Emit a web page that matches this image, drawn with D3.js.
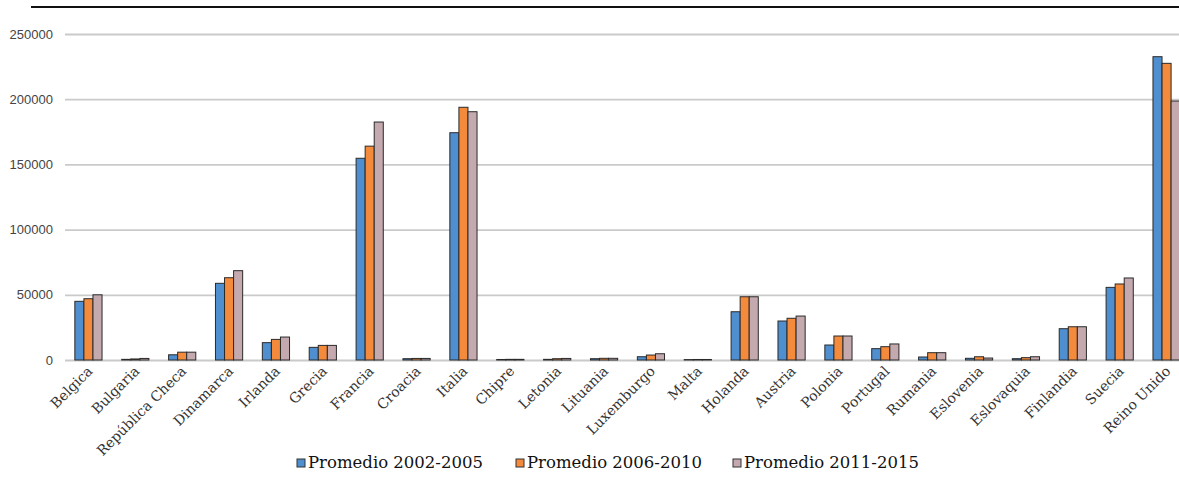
<!DOCTYPE html>
<html>
<head>
<meta charset="utf-8">
<script src="https://cdn.jsdelivr.net/npm/d3@7"></script>
<style>
  body { margin: 0; background: #fff; }
  svg { display: block; }
</style>
</head>
<body>
<svg width="1179" height="490"></svg>
<script>
const countries = ["Belgica", "Bulgaria", "República Checa", "Dinamarca", "Irlanda", "Grecia",
    "Francia", "Croacia", "Italia", "Chipre", "Letonia", "Lituania", "Luxemburgo", "Malta",
    "Holanda", "Austria", "Polonia", "Portugal", "Rumania", "Eslovenia", "Eslovaquia",
    "Finlandia", "Suecia", "Reino Unido"];

const series = ["Promedio 2002-2005", "Promedio 2006-2010", "Promedio 2011-2015"];

const p2002 = [45000, 500, 4000, 58800, 13300, 9700, 154700, 1000, 174300, 400, 500, 1000,
    2500, 300, 37000, 29900, 11500, 8700, 2300, 1300, 1000, 24000, 55700, 232600];
const p2006 = [47000, 800, 6000, 63100, 15800, 11200, 164000, 1200, 193800, 500, 1000, 1300,
    3800, 400, 48500, 32000, 18400, 10200, 5600, 2500, 1800, 25500, 58300, 227500];
const p2011 = [50000, 1200, 6000, 68500, 17600, 11200, 182500, 1200, 190400, 500, 1200, 1300,
    4800, 400, 48500, 33700, 18400, 12300, 5600, 1500, 2500, 25500, 62900, 198600];

const yTicks = [0, 50000, 100000, 150000, 200000, 250000];
const colors = ["#4f8fcf", "#f48a3c", "#c4aaaf"];

const values = [p2002, p2006, p2011];
const rows = countries.map((c, i) => ({
    country: c,
    vals: series.map((s, k) => ({ key: s, value: values[k][i] }))
}));

const svg = d3.select("svg");

const x = d3.scaleBand()
    .domain(countries)
    .range([65, 1190])
    .paddingInner(0.42)
    .paddingOuter(0.21);

const xs = d3.scaleBand()
    .domain(series)
    .range([0, x.bandwidth()]);

const y = d3.scaleLinear()
    .domain([0, 250000])
    .range([360, 34]);

// linea negra de arriba
svg.append("line")
    .attr("x1", 31).attr("x2", 1179)
    .attr("y1", 7).attr("y2", 7)
    .attr("stroke", "#111")
    .attr("stroke-width", 2);

// rejilla y eje y
const yAxis = svg.append("g")
    .attr("transform", "translate(65,0)")
    .call(d3.axisLeft(y).tickValues(yTicks).tickSize(-1114).tickPadding(12).tickFormat(d3.format("d")));
yAxis.select(".domain").remove();
yAxis.selectAll(".tick line")
    .attr("stroke", "#cacaca")
    .attr("stroke-width", 1.8);
yAxis.selectAll(".tick text")
    .attr("font-family", "Liberation Sans, Arial, sans-serif")
    .attr("font-size", 13)
    .attr("fill", "#444");

// barras
const group = svg.append("g")
    .selectAll("g")
    .data(rows)
    .enter()
    .append("g")
    .attr("transform", (d) => "translate(" + x(d.country) + ",0)");

group.selectAll("rect")
    .data((d) => d.vals)
    .enter()
    .append("rect")
    .attr("x", (d) => xs(d.key))
    .attr("y", (d) => y(d.value))
    .attr("width", xs.bandwidth())
    .attr("height", (d) => y(0) - y(d.value))
    .attr("fill", (d, i) => colors[i])
    .attr("stroke", "#2a2a2a")
    .attr("stroke-width", 1);

// etiquetas x
svg.append("g")
    .selectAll("text")
    .data(countries)
    .enter()
    .append("text")
    .text((d) => d)
    .attr("font-family", "DejaVu Serif, serif")
    .attr("font-size", 14)
    .attr("fill", "#333")
    .attr("text-anchor", "end")
    .attr("transform", (d) => "translate(" + (x(d) + x.bandwidth() / 2 + 5) + ",372) rotate(-45)");

// leyenda
const legendX = [297, 516, 733];
const legend = svg.append("g")
    .selectAll("g")
    .data(series)
    .enter()
    .append("g")
    .attr("transform", (d, i) => "translate(" + legendX[i] + ",458)");

legend.append("rect")
    .attr("width", 8)
    .attr("height", 8)
    .attr("y", 1)
    .attr("fill", (d, i) => colors[i])
    .attr("stroke", "#333")
    .attr("stroke-width", 1);

legend.append("text")
    .text((d) => d)
    .attr("x", 11)
    .attr("y", 10)
    .attr("font-family", "DejaVu Serif, serif")
    .attr("font-size", 16.5)
    .attr("fill", "#111");
</script>
</body>
</html>
